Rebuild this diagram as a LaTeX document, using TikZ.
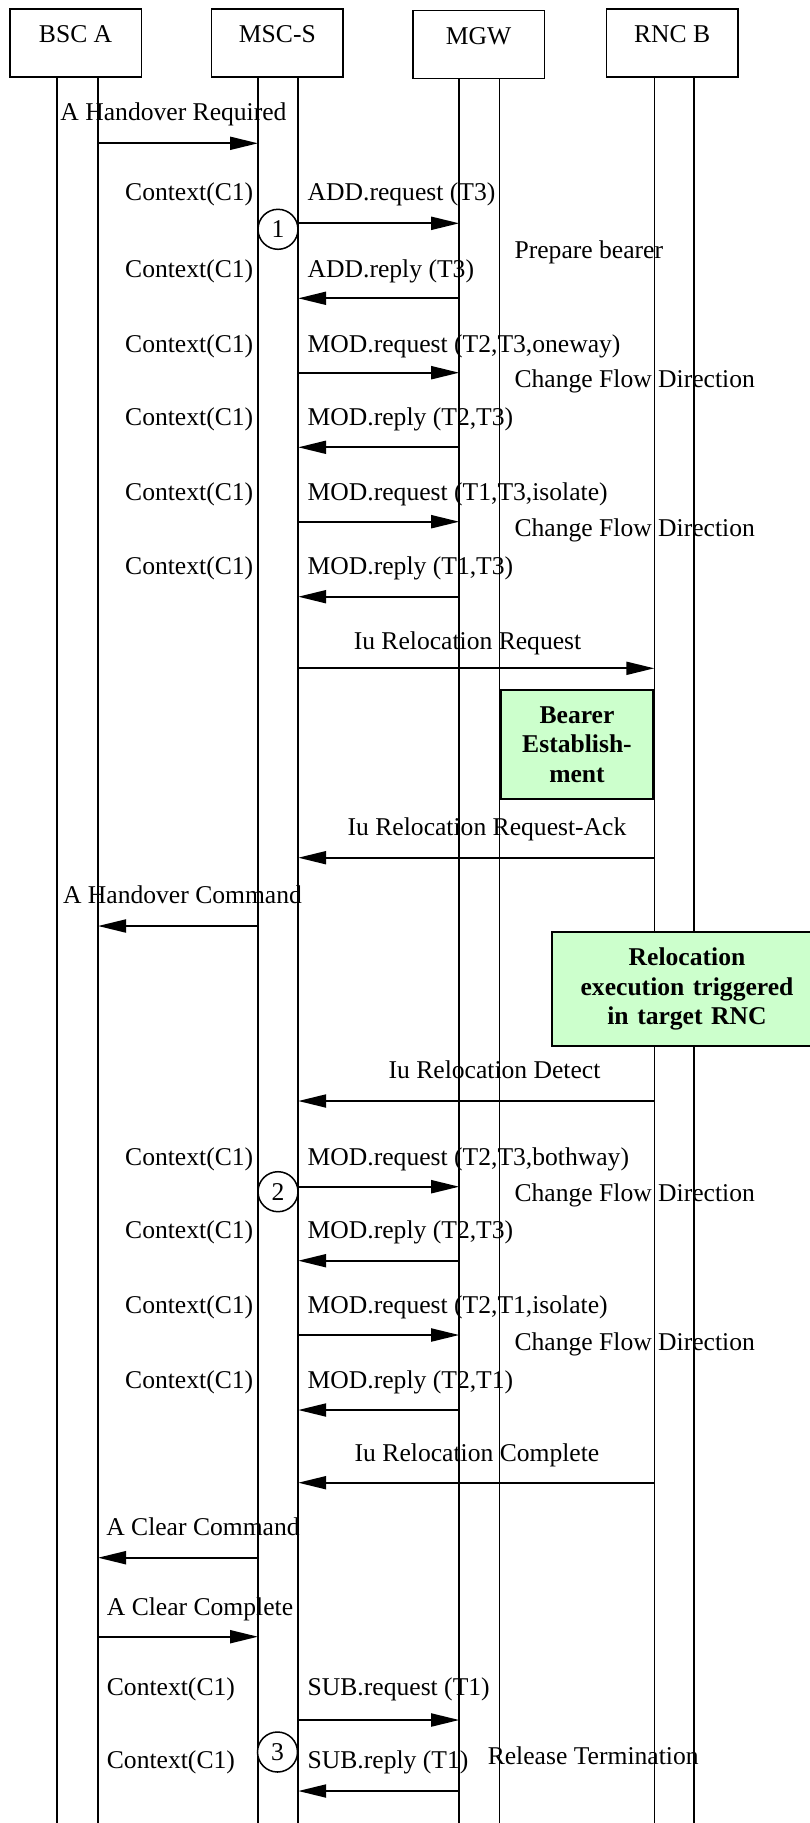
\documentclass[tikz,border=0pt]{standalone}
\usepackage{fontspec}
\setmainfont{Liberation Serif}
\usepackage{tikz}
\usetikzlibrary{arrows.meta,positioning,calc}
\usepackage{xcolor}
\definecolor{ink}{RGB}{0,0,0}
\definecolor{note}{RGB}{204,255,204}
\tikzset{
  head/.style={draw=ink,line width=1.5pt,minimum width=131.6pt,minimum height=67.7pt,
    inner sep=0pt,text height=18pt,text depth=18pt},
  life/.style={draw=ink,line width=1.5pt},
  msg/.style={-{Triangle[length=28pt,width=13pt]},line width=2pt,ink},
  txt/.style={inner sep=0pt,text=ink},
  stepno/.style={draw=ink,circle,fill=white,line width=1.5pt,minimum size=40pt,inner sep=0pt},
  proc/.style={draw=ink,fill=note,line width=2pt,inner sep=0pt,align=center,
    font=\bfseries\fontsize{25.6}{29.5}\selectfont},
}

\begin{document}
\begin{tikzpicture}[x=1pt,y=-1pt,font=\fontsize{25.6}{29.5}\selectfont]
  \useasboundingbox (0,0) rectangle (809,1823);

  % entities
  \node[head] (bsc) at (75.6,42.9) {BSC A};
  \node[head] (msc) at (277.4,42.9) {MSC-S};
  \node[head] (mgw) at (478.6,44.5) {MGW};
  \node[head] (rnc) at (672.1,42.9) {RNC B};

  % lifelines
  \foreach \e/\a/\b in {bsc/56.8/98,msc/258/298.2,mgw/459.2/499.5,rnc/654.3/694} {
    \coordinate (\e L) at (\a,0 |- \e.south);
    \coordinate (\e R) at (\b,0 |- \e.south);
    \draw[life] (\e L) -- (\e L |- 0,1823);
    \draw[life] (\e R) -- (\e R |- 0,1823);
  }

  % MSC-S <-> MGW transactions
  \foreach \i/\cx/\yb/\ya/\txt/\src/\dst in {
      1/125/200/223.3/{ADD.request (T3)}/mscR/mgwL,
      2/125/277/298.3/{ADD.reply (T3)}/mgwL/mscR,
      3/125/352/372.7/{MOD.request (T2,T3,oneway)}/mscR/mgwL,
      4/125/425/447.3/{MOD.reply (T2,T3)}/mgwL/mscR,
      5/125/500/521.7/{MOD.request (T1,T3,isolate)}/mscR/mgwL,
      6/125/574/596.7/{MOD.reply (T1,T3)}/mgwL/mscR,
      7/125/1165/1186.7/{MOD.request (T2,T3,bothway)}/mscR/mgwL,
      8/125/1238/1260.7/{MOD.reply (T2,T3)}/mgwL/mscR,
      9/125/1313/1335/{MOD.request (T2,T1,isolate)}/mscR/mgwL,
      10/125/1388/1410/{MOD.reply (T2,T1)}/mgwL/mscR,
      11/106.7/1695/1720/{SUB.request (T1)}/mscR/mgwL,
      12/106.7/1768/1791/{SUB.reply (T1)}/mgwL/mscR} {
    \node[txt,anchor=base west] (ctx\i) at (\cx,\yb) {Context(C1)};
    \node[txt,anchor=base west] (op\i) at (307.5,\yb) {\txt};
    \draw[msg] (\src |- 0,\ya) -- (\dst |- 0,\ya);
  }

  % other signalling
  \foreach \nm/\tx/\yb/\txt/\src/\dst/\ya in {
      hoq/173.5/120/{A Handover Required}/bscR/mscL/143.3,
      irq/467.5/649/{Iu Relocation Request}/mscR/rncL/668.3,
      ira/487/835/{Iu Relocation Request-Ack}/rncL/mscR/857.7,
      hoc/182.5/903/{A Handover Command}/mscL/bscR/926,
      ird/494.5/1078/{Iu Relocation Detect}/rncL/mscR/1101,
      irc/477/1461/{Iu Relocation Complete}/rncL/mscR/1482.7,
      clc/203/1535/{A Clear Command}/mscL/bscR/1557.7,
      clp/200/1615/{A Clear Complete}/bscR/mscL/1636.7} {
    \node[txt,anchor=base] (\nm) at (\tx,\yb) {\txt};
    \draw[msg] (\src |- 0,\ya) -- (\dst |- 0,\ya);
  }

  % MGW actions
  \node[txt,anchor=base west] (prep) at (514.4,258) {Prepare bearer};
  \foreach \i/\yb in {1/387,2/536,3/1201,4/1350}
    \node[txt,anchor=base west] (cfd\i) at (514.4,\yb) {Change Flow Direction};
  \node[txt,anchor=base west] (rel) at (487.6,1764) {Release Termination};

  % procedures
  \node[proc,text width=152pt,minimum height=109.5pt] (bearer) at (577,744.7)
    {Bearer\\Establish-\\ment};
  \node[proc,text width=270pt,minimum height=114pt] (reloc) at (687,989)
    {Relocation\\execution triggered\\in target RNC};

  % step markers
  \node[stepno] (s1) at (278,229.3) {1};
  \node[stepno] (s2) at (278,1191.7) {2};
  \node[stepno] (s3) at (277.5,1752) {3};
\end{tikzpicture}
\end{document}
